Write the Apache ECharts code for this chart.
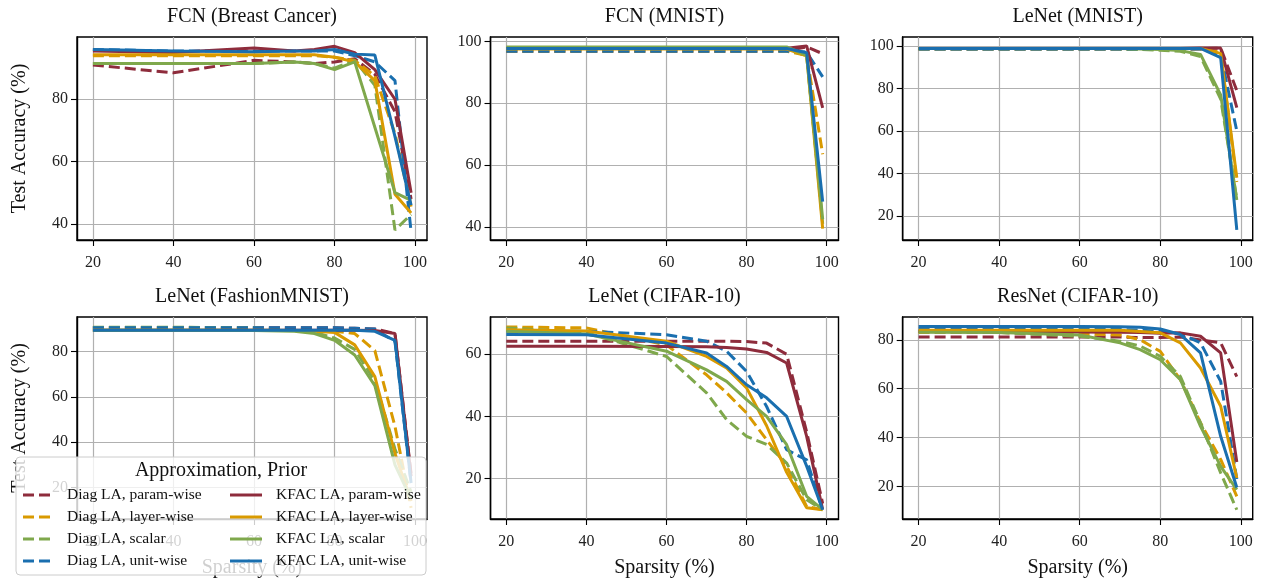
<!DOCTYPE html>
<html>
<head>
<meta charset="utf-8">
<script src="https://cdn.jsdelivr.net/npm/echarts@6/dist/echarts.min.js"></script>
<style>html,body{margin:0;padding:0;background:#fff;}#c{width:1271px;height:582px;}</style>
</head>
<body>
<div id="c"></div>
<script>
// ---- data ----
const sparsity = [20, 40, 60, 70, 75, 80, 85, 90, 95, 99];
const seriesNames = ['Diag LA, param-wise','Diag LA, layer-wise','Diag LA, scalar','Diag LA, unit-wise',
                     'KFAC LA, param-wise','KFAC LA, layer-wise','KFAC LA, scalar','KFAC LA, unit-wise'];
const panelTitles = ['FCN (Breast Cancer)','FCN (MNIST)','LeNet (MNIST)','LeNet (FashionMNIST)','LeNet (CIFAR-10)','ResNet (CIFAR-10)'];
const xTicks = [20, 40, 60, 80, 100];
const yTicks1 = [40, 60, 80];
const yTicks2 = [40, 60, 80, 100];
const yTicks3 = [20, 40, 60, 80, 100];
const yTicks4 = [20, 40, 60, 80];
const yTicks5 = [20, 40, 60];
const yTicks6 = [20, 40, 60, 80];

// FCN (Breast Cancer)
const bc_diagParam  = [91, 88.5, 92.5, 92, 91.5, 92, 93, 88, 76, 48];
const bc_diagLayer  = [94, 94, 94, 94, 94, 93.5, 92.5, 87.5, 69, 45.5];
const bc_diagScalar = [91.5, 91.5, 91.5, 92, 91.5, 90, 92.5, 84.5, 38, 43];
const bc_diagUnit   = [96, 95.5, 95.5, 95.5, 95.5, 95.5, 94, 92, 86, 37.5];
const bc_kfacParam  = [95.5, 95, 96.5, 95.5, 96, 97, 95, 89.5, 80, 50];
const bc_kfacLayer  = [94.3, 94.3, 94.3, 94.3, 94.3, 93.5, 92, 86, 49.5, 43.5];
const bc_kfacScalar = [91.5, 91.5, 91.5, 92, 91.5, 89.5, 92, 71, 50, 47.5];
const bc_kfacUnit   = [96, 95.5, 95.3, 95.5, 95.5, 96, 94.5, 94.2, 68, 46];

// FCN (MNIST)
const fm_diagParam  = [96.8, 96.8, 96.8, 96.8, 96.8, 96.8, 96.8, 97, 98.2, 96];
const fm_diagLayer  = [96.8, 96.8, 96.8, 96.8, 96.8, 96.8, 96.8, 96.8, 95.5, 63.5];
const fm_diagScalar = [97.3, 97.3, 97.3, 97.3, 97.3, 97.3, 97.3, 97.3, 95.5, 41];
const fm_diagUnit   = [96.8, 96.8, 96.8, 96.8, 96.8, 96.8, 96.8, 96.8, 96.5, 88.5];
const fm_kfacParam  = [97.8, 97.8, 97.8, 97.8, 97.8, 97.8, 97.8, 97.8, 98.5, 78.5];
const fm_kfacLayer  = [97.5, 97.5, 97.5, 97.5, 97.5, 97.5, 97.5, 97.5, 95.3, 39.5];
const fm_kfacScalar = [98.2, 98.2, 98.2, 98.2, 98.2, 98.2, 98.2, 98.2, 95.5, 42.5];
const fm_kfacUnit   = [97.7, 97.7, 97.7, 97.7, 97.7, 97.7, 97.7, 97.7, 96.3, 48.2];

// LeNet (MNIST)
const lm_diagParam  = [98.5, 98.5, 98.5, 98.5, 98.5, 98.5, 98.5, 98.7, 99, 79];
const lm_diagLayer  = [98.5, 98.5, 98.5, 98.5, 98.5, 98.5, 98.5, 98.5, 97, 36];
const lm_diagScalar = [98.5, 98.5, 98.5, 98.5, 98.3, 98, 97.5, 95, 75, 28];
const lm_diagUnit   = [98.5, 98.5, 98.5, 98.5, 98.5, 98.5, 98.5, 98.5, 96, 60];
const lm_kfacParam  = [98.8, 98.8, 98.8, 98.8, 98.8, 98.8, 98.8, 99, 99, 71];
const lm_kfacLayer  = [98.8, 98.8, 98.8, 98.8, 98.8, 98.8, 98.8, 98.8, 96.5, 38];
const lm_kfacScalar = [98.8, 98.8, 98.8, 98.8, 98.6, 98.3, 97.8, 96, 77, 27.5];
const lm_kfacUnit   = [98.8, 98.8, 98.8, 98.8, 98.8, 98.8, 98.8, 98.8, 94.5, 13.5];

// LeNet (FashionMNIST)
const lf_diagParam  = [90.5, 90.5, 90.5, 90.5, 90.5, 90.5, 90.3, 90, 88, 26];
const lf_diagLayer  = [90.5, 90.5, 90.3, 90, 89.8, 89, 88, 80.5, 47, 11];
const lf_diagScalar = [90.8, 90.8, 90.5, 89.5, 88.5, 86, 81, 67, 37, 18];
const lf_diagUnit   = [90.5, 90.5, 90.5, 90.5, 90.5, 90.5, 90.3, 90, 84.5, 22];
const lf_kfacParam  = [89.5, 89.5, 89.5, 89.5, 89.5, 89.5, 89.5, 89.3, 88, 25];
const lf_kfacLayer  = [89.5, 89.5, 89.5, 89.3, 89, 88.5, 83, 69, 35, 14];
const lf_kfacScalar = [89.5, 89.5, 89.3, 89, 88, 85, 78.5, 65, 30, 15];
const lf_kfacUnit   = [89.5, 89.5, 89.5, 89.5, 89.5, 89.5, 89.5, 89, 85, 22];

// LeNet (CIFAR-10)
const lc_diagParam  = [64.2, 64.2, 64.2, 64.2, 64.2, 64.1, 63.6, 60, 35, 12];
const lc_diagLayer  = [68.8, 68.5, 63, 53.4, 47.6, 41.1, 32.5, 24, 11, 10];
const lc_diagScalar = [68.5, 67, 59.3, 47.6, 39, 33.6, 31, 25, 13.2, 10];
const lc_diagUnit   = [67.4, 67.4, 66.3, 64.2, 61, 54.5, 43.2, 29.3, 26, 10];
const lc_kfacParam  = [62.6, 62.6, 62.5, 62.4, 62.2, 61.7, 60.6, 57.2, 33.6, 10];
const lc_kfacLayer  = [67.9, 67.5, 64.2, 59.3, 55.6, 49.2, 37, 22, 10.6, 10];
const lc_kfacScalar = [67.4, 66.5, 61, 55, 51.3, 45.4, 40, 30.9, 14.3, 10];
const lc_kfacUnit   = [66.4, 66.3, 63.6, 60.4, 56.1, 50.2, 46, 40, 24, 10];

// ResNet (CIFAR-10)
const rc_diagParam  = [81.2, 81.2, 81.2, 81.2, 81, 81, 81.2, 80, 78.8, 65];
const rc_diagLayer  = [83, 83, 82.5, 82, 80.1, 75.3, 63.7, 46, 31, 15.9];
const rc_diagScalar = [83.5, 83, 81.5, 79.5, 77.5, 73.3, 65, 46, 25.5, 10.4];
const rc_diagUnit   = [84.5, 84.5, 84.5, 84.3, 84, 83.5, 82.5, 78.8, 63, 23];
const rc_kfacParam  = [83.5, 83.5, 83.3, 83.2, 83, 82.7, 82.9, 81.5, 74.7, 30];
const rc_kfacLayer  = [84, 84, 84, 84, 83.5, 82.9, 78.8, 68.5, 52.8, 23.4];
const rc_kfacScalar = [83.2, 83, 82, 78.8, 76, 71.9, 63.7, 44.6, 28.2, 18.6];
const rc_kfacUnit   = [85.5, 85.5, 85.5, 85.4, 85.2, 84.5, 82.2, 74.7, 40.5, 19.5];

const panelData = [
  [bc_diagParam, bc_diagLayer, bc_diagScalar, bc_diagUnit, bc_kfacParam, bc_kfacLayer, bc_kfacScalar, bc_kfacUnit],
  [fm_diagParam, fm_diagLayer, fm_diagScalar, fm_diagUnit, fm_kfacParam, fm_kfacLayer, fm_kfacScalar, fm_kfacUnit],
  [lm_diagParam, lm_diagLayer, lm_diagScalar, lm_diagUnit, lm_kfacParam, lm_kfacLayer, lm_kfacScalar, lm_kfacUnit],
  [lf_diagParam, lf_diagLayer, lf_diagScalar, lf_diagUnit, lf_kfacParam, lf_kfacLayer, lf_kfacScalar, lf_kfacUnit],
  [lc_diagParam, lc_diagLayer, lc_diagScalar, lc_diagUnit, lc_kfacParam, lc_kfacLayer, lc_kfacScalar, lc_kfacUnit],
  [rc_diagParam, rc_diagLayer, rc_diagScalar, rc_diagUnit, rc_kfacParam, rc_kfacLayer, rc_kfacScalar, rc_kfacUnit]
];
const yTickSets = [yTicks1, yTicks2, yTicks3, yTicks4, yTicks5, yTicks6];
const yRanges = [[34.8, 100], [35.8, 101.4], [8.7, 104.2], [6.1, 95.3], [7.0, 72.0], [6.6, 89.4]];
const xRange = [16.05, 102.95];

// ---- styling / layout ----
const colors = ['#8E2C3C', '#D99A00', '#7FA84C', '#1A6FAF'];
const FONT = "'Liberation Serif','DejaVu Serif',serif";
const colLeft = [77, 490.5, 902.7];
const colWidth = [350, 348, 350];
const rowTop = [37, 317];
const rowHeight = [203, 202];
const DASH = [11, 5];
const TICK_FS = 16, TITLE_FS = 20, LEGEND_FS = 15.5;

const grids = [], xAxes = [], yAxes = [], series = [], graphics = [];
for (let p = 0; p < 6; p++) {
  const r = Math.floor(p / 3), c = p % 3;
  grids.push({left: colLeft[c], top: rowTop[r], width: colWidth[c], height: rowHeight[r],
    show: true, borderColor: '#000', borderWidth: 1.4, backgroundColor: 'transparent', containLabel: false});
  xAxes.push({
    type: 'value', gridIndex: p, min: xRange[0], max: xRange[1],
    axisLine: {show: true, lineStyle: {color: '#000', width: 1.4}},
    axisTick: {show: true, length: 6, lineStyle: {color: '#000', width: 1.1}, customValues: xTicks},
    axisLabel: {color: '#222', fontFamily: FONT, fontSize: TICK_FS, margin: 15, customValues: xTicks},
    splitLine: {show: true, lineStyle: {color: '#b0b0b0', width: 1.2}},
    name: r === 1 ? 'Sparsity (%)' : '', nameLocation: 'middle', nameGap: 39,
    nameTextStyle: {color: '#111', fontFamily: FONT, fontSize: TITLE_FS}
  });
  yAxes.push({
    type: 'value', gridIndex: p, min: yRanges[p][0], max: yRanges[p][1],
    axisLine: {show: true, lineStyle: {color: '#000', width: 1.4}},
    axisTick: {show: true, length: 6, lineStyle: {color: '#000', width: 1.1}, customValues: yTickSets[p]},
    axisLabel: {color: '#222', fontFamily: FONT, fontSize: TICK_FS, margin: 9, customValues: yTickSets[p]},
    splitLine: {show: true, lineStyle: {color: '#b0b0b0', width: 1.2}},
    name: c === 0 ? 'Test Accuracy (%)' : '', nameLocation: 'middle', nameGap: 47, nameRotate: 90,
    nameTextStyle: {color: '#111', fontFamily: FONT, fontSize: TITLE_FS}
  });
  for (let s = 0; s < 8; s++) {
    series.push({
      type: 'line', name: seriesNames[s], xAxisIndex: p, yAxisIndex: p,
      data: sparsity.map((x, i) => [x, panelData[p][s][i]]),
      symbol: 'none', showSymbol: false, silent: true, animation: false, z: 3,
      lineStyle: {color: colors[s % 4], width: 3, type: s < 4 ? DASH : 'solid'},
      itemStyle: {color: colors[s % 4]}
    });
  }
  graphics.push({type: 'text', z: 10, x: colLeft[c] + colWidth[c] / 2, y: r === 0 ? 16.5 : 296.5,
    style: {text: panelTitles[p], font: TITLE_FS + 'px ' + FONT, fill: '#111', textAlign: 'center', textVerticalAlign: 'middle'}});
}
// legend (drawn as graphic: box, title, handles, labels)
graphics.push({type: 'rect', z: 50, shape: {x: 16, y: 457, width: 410, height: 118, r: 4},
  style: {fill: 'rgba(255,255,255,0.8)', stroke: '#cccccc', lineWidth: 1}});
graphics.push({type: 'text', z: 60, x: 221, y: 471,
  style: {text: 'Approximation, Prior', font: TITLE_FS + 'px ' + FONT, fill: '#111', textAlign: 'center', textVerticalAlign: 'middle'}});
const legendRowY = [495, 517, 539, 561];
const legendColX = [23, 230];
const legendTextX = [67, 276];
for (let s = 0; s < 8; s++) {
  const col = s < 4 ? 0 : 1, row = s % 4;
  graphics.push({type: 'line', z: 60,
    shape: {x1: legendColX[col], y1: legendRowY[row], x2: legendColX[col] + 32, y2: legendRowY[row]},
    style: {stroke: colors[s % 4], lineWidth: 3, lineDash: col === 0 ? DASH : null}});
  graphics.push({type: 'text', z: 60, x: legendTextX[col], y: legendRowY[row],
    style: {text: seriesNames[s], font: LEGEND_FS + 'px ' + FONT, fill: '#111', textAlign: 'left', textVerticalAlign: 'middle'}});
}

const option = {
  animation: false,
  backgroundColor: '#fff',
  grid: grids, xAxis: xAxes, yAxis: yAxes, series: series,
  graphic: graphics
};
const chart = echarts.init(document.getElementById('c'), null, {renderer: 'canvas'});
chart.setOption(option);
</script>
</body>
</html>
